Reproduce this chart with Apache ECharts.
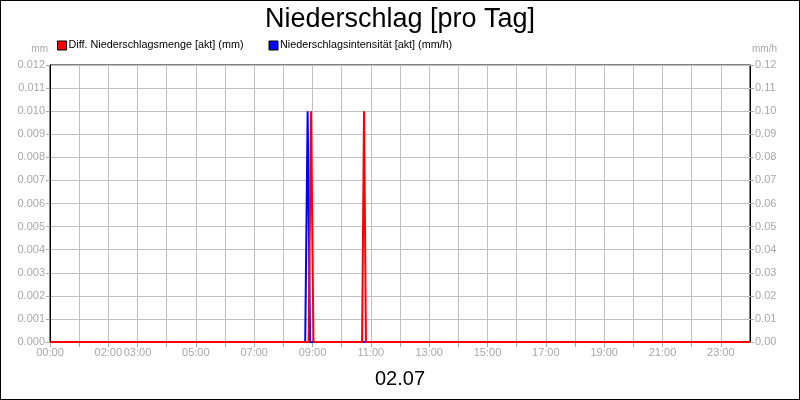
<!DOCTYPE html>
<html>
<head>
<meta charset="utf-8">
<script src="https://cdn.jsdelivr.net/npm/echarts@6/dist/echarts.min.js"></script>
<style>
html,body{margin:0;padding:0;background:#fff;}
#wrap{position:relative;width:800px;height:400px;}
#chart{width:800px;height:400px;}
#frame{position:absolute;left:0;top:0;width:800px;height:400px;box-sizing:border-box;border:1px solid #000;pointer-events:none;}
</style>
</head>
<body>
<div id="wrap"><div id="chart"></div><div id="frame"></div></div>
<script>
// Data (time "HH:MM", value)
const mengeTimes  = ["00:00","08:52","08:57","09:02","10:42","10:46","10:50","24:00"];
const mengeValues = [0,      0,      0.010,  0,      0,      0.010,  0,      0];
const intensTimes  = ["00:00","08:45","08:50","08:55","24:00"];
const intensValues = [0,      0,      0.10,   0,      0];
const xLabelHours = [0,2,3,5,7,9,11,13,15,17,19,21,23];
const seriesNames = ["Diff. Niederschlagsmenge [akt] (mm)","Niederschlagsintensität [akt] (mm/h)"];
const dateLabel = "02.07";

function toH(t){const p=t.split(":");return +p[0]+ +p[1]/60;}
const mengeData = mengeTimes.map((t,i)=>[toH(t),mengeValues[i]]);
const intensData = intensTimes.map((t,i)=>[toH(t),intensValues[i]]);

const FONT = "Liberation Sans, Arial, sans-serif";
const gray = "#a8a8a8";
const chart = echarts.init(document.getElementById('chart'));
chart.setOption({
  animation:false,
  textStyle:{fontFamily:FONT},
  title:{text:"Niederschlag [pro Tag]",left:'center',top:1,
    textStyle:{fontFamily:FONT,fontSize:27,fontWeight:'normal',color:'#000'}},
  legend:{left:57,top:40,padding:0,itemWidth:9,itemHeight:9,itemGap:25,icon:'rect',
    textStyle:{fontFamily:FONT,fontSize:10.8,color:'#000',padding:[0,0,0,-3]},
    data:[{name:seriesNames[0],itemStyle:{borderColor:'#000',borderWidth:1}},
          {name:seriesNames[1],itemStyle:{borderColor:'#000',borderWidth:1}}]},
  grid:{left:50,right:50,top:65,bottom:58,show:true,borderColor:'#000',borderWidth:1},
  xAxis:{type:'value',min:0,max:24,interval:1,
    axisLine:{show:true,lineStyle:{color:'#000'}},
    axisTick:{show:true,length:5,lineStyle:{color:gray}},
    splitLine:{show:true,lineStyle:{color:'#c0c0c0'}},
    axisLabel:{color:gray,fontSize:11,fontFamily:FONT,margin:5,hideOverlap:false,showMinLabel:true,showMaxLabel:false,
      formatter:function(v){const h=Math.round(v);return xLabelHours.indexOf(h)>=0&&Math.abs(v-h)<1e-6?(h<10?'0'+h:''+h)+':00':'';}}
  },
  yAxis:[
    {type:'value',min:0,max:0.012,interval:0.001,position:'left',
     name:'mm',nameLocation:'end',nameGap:11,
     nameTextStyle:{color:gray,fontSize:10,fontFamily:FONT,align:'right',padding:[0,2,0,0]},
     axisLine:{show:true,lineStyle:{color:'#000'}},
     axisTick:{show:true,length:4,lineStyle:{color:gray}},
     splitLine:{show:true,lineStyle:{color:'#c0c0c0'}},
     axisLabel:{color:gray,fontSize:11,fontFamily:FONT,margin:5,formatter:v=>v.toFixed(3)}},
    {type:'value',min:0,max:0.12,interval:0.01,position:'right',
     name:'mm/h',nameLocation:'end',nameGap:11,
     nameTextStyle:{color:gray,fontSize:10,fontFamily:FONT,align:'left',padding:[0,0,0,2]},
     axisLine:{show:true,lineStyle:{color:'#000'}},
     axisTick:{show:true,length:4,lineStyle:{color:gray}},
     splitLine:{show:false},
     axisLabel:{color:gray,fontSize:11,fontFamily:FONT,margin:5,formatter:v=>v.toFixed(2)}}
  ],
  graphic:[{type:'text',left:'center',top:369,style:{text:dateLabel,font:'20px '+FONT,fill:'#000'}}],
  series:[
    {name:seriesNames[1],type:'line',yAxisIndex:1,data:intensData,showSymbol:false,
     lineStyle:{color:'#0000ff',width:2},itemStyle:{color:'#0000ff'}},
    {name:seriesNames[0],type:'line',yAxisIndex:0,data:mengeData,showSymbol:false,
     lineStyle:{color:'#ff0000',width:2},itemStyle:{color:'#ff0000'}}
  ]
});
</script>
</body>
</html>
